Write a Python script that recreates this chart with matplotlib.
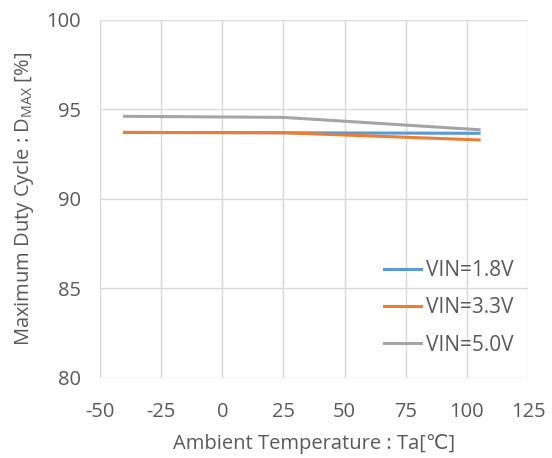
import matplotlib
matplotlib.use("Agg")
import matplotlib.pyplot as plt

temps = [-40, 25, 105]
vin_18 = [93.72, 93.70, 93.67]
vin_33 = [93.72, 93.70, 93.30]
vin_50 = [94.62, 94.56, 93.87]
labels = ["VIN=1.8V", "VIN=3.3V", "VIN=5.0V"]
colors = ["#5B9BD5", "#ED7D31", "#A5A5A5"]

plt.rcParams['font.family'] = ['Open Sans', 'DejaVu Sans']
plt.rcParams['axes.unicode_minus'] = False
txt = '#595959'

fig = plt.figure(figsize=(5.52, 4.58), dpi=100)
ax = fig.add_axes([100/552, 80/458, 428/552, 358/458])

for y, c, l in zip([vin_18, vin_33, vin_50], colors, labels):
    ax.plot(temps, y, color=c, linewidth=2.2, label=l)

ax.set_xlim(-50, 125)
ax.set_ylim(80, 100)
ax.set_xticks(range(-50, 126, 25))
ax.set_yticks(range(80, 101, 5))
ax.grid(True, color='#d9d9d9', linewidth=1)
ax.set_axisbelow(True)
for s in ax.spines.values():
    s.set_visible(False)
ax.tick_params(length=0, labelsize=14.5, colors=txt)
ax.tick_params(axis='x', pad=17)
ax.tick_params(axis='y', pad=14)

ax.set_xlabel("Ambient Temperature : Ta[℃]", fontsize=14.5, color=txt, labelpad=9)
ax.set_ylabel("Maximum Duty Cycle : D$_{\\mathregular{MAX}}$ [%]", fontsize=14.5, color=txt, labelpad=7)

leg = ax.legend(loc='lower right', bbox_to_anchor=(1.01, 0.01), frameon=False,
                fontsize=15, handlelength=1.75, labelspacing=0.78, handletextpad=0.25)
for t in leg.get_texts():
    t.set_color(txt)

fig.savefig("out.png", dpi=100)
